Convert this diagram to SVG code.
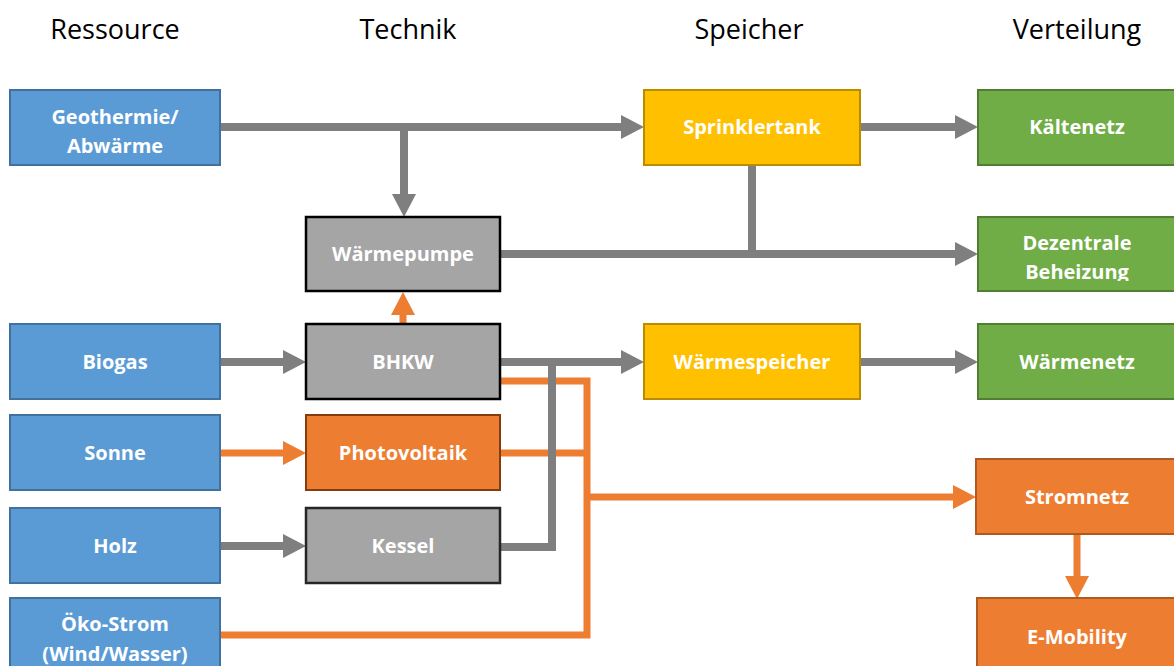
<svg xmlns="http://www.w3.org/2000/svg" width="1174" height="666" viewBox="0 0 1174 666">
<defs>
<style>
.hdr{font-family:"Open Sans","Liberation Sans",sans-serif;font-size:27px;fill:#000;text-anchor:middle}
.lbl{font-family:"Open Sans","Liberation Sans",sans-serif;font-size:20px;font-weight:700;fill:#fff;text-anchor:middle}
.blue{fill:#5B9BD5;stroke:#41719C;stroke-width:2}
.gray{fill:#A5A5A5;stroke:#000;stroke-width:2.5}
.orange{fill:#ED7D31;stroke:#AE5A21;stroke-width:2}
.yellow{fill:#FFC000;stroke:#BC8C00;stroke-width:2}
.green{fill:#70AD47;stroke:#507E32;stroke-width:2}
.cg{fill:none;stroke:#7F7F7F;stroke-width:8}
.co{fill:none;stroke:#ED7D31;stroke-width:7}
</style>
<marker id="ag" markerUnits="userSpaceOnUse" markerWidth="23" markerHeight="24" refX="0" refY="12" orient="auto"><path d="M0,0 L23,12 L0,24 z" fill="#7F7F7F"/></marker>
<marker id="ao" markerUnits="userSpaceOnUse" markerWidth="23" markerHeight="24" refX="0" refY="12" orient="auto"><path d="M0,0 L23,12 L0,24 z" fill="#ED7D31"/></marker>
<clipPath id="clipDez"><rect x="979" y="218" width="200" height="63"/></clipPath>
</defs>
<rect width="1174" height="666" fill="#fff"/>
<g id="headers">
<text class="hdr" x="115" y="39">Ressource</text>
<text class="hdr" x="408" y="39">Technik</text>
<text class="hdr" x="749" y="39">Speicher</text>
<text class="hdr" x="1077" y="39">Verteilung</text>
</g>
<g id="connectors">
<path class="co" d="M220,635 H587 V381 H500"/>
<path class="co" d="M500,453 H587"/>
<path class="co" d="M587,497 H953" marker-end="url(#ao)"/>
<path class="co" d="M220,453 H283" marker-end="url(#ao)"/>
<path class="co" d="M403,324 V315" marker-end="url(#ao)"/>
<path class="co" d="M1077,534 V576" marker-end="url(#ao)"/>
<path class="cg" d="M220,127 H621" marker-end="url(#ag)"/>
<path class="cg" d="M404,127 V194" marker-end="url(#ag)"/>
<path class="cg" d="M860,127 H955" marker-end="url(#ag)"/>
<path class="cg" d="M752,165 V254"/>
<path class="cg" d="M500,254 H955" marker-end="url(#ag)"/>
<path class="cg" d="M220,362 H283" marker-end="url(#ag)"/>
<path class="cg" d="M500,362 H621" marker-end="url(#ag)"/>
<path class="cg" d="M500,547 H552 V362"/>
<path class="cg" d="M860,362 H955" marker-end="url(#ag)"/>
<path class="cg" d="M220,546 H283" marker-end="url(#ag)"/>
</g>
<g id="geothermie"><rect class="blue" x="10" y="90" width="210" height="75"/><text class="lbl" x="115" y="124">Geothermie/</text><text class="lbl" x="115" y="153">Abwärme</text></g>
<g id="biogas"><rect class="blue" x="10" y="324" width="210" height="75"/><text class="lbl" x="115" y="369">Biogas</text></g>
<g id="sonne"><rect class="blue" x="10" y="415" width="210" height="75"/><text class="lbl" x="115" y="460">Sonne</text></g>
<g id="holz"><rect class="blue" x="10" y="508" width="210" height="75"/><text class="lbl" x="115" y="553">Holz</text></g>
<g id="oekostrom"><rect class="blue" x="10" y="598" width="210" height="80"/><text class="lbl" x="115" y="631">Öko-Strom</text><text class="lbl" x="115" y="661">(Wind/Wasser)</text></g>
<g id="waermepumpe"><rect class="gray" x="306" y="217" width="194" height="74"/><text class="lbl" x="403" y="261">Wärmepumpe</text></g>
<g id="bhkw"><rect class="gray" x="306" y="324" width="194" height="75"/><text class="lbl" x="403" y="369">BHKW</text></g>
<g id="photovoltaik"><rect class="orange" x="306" y="415" width="194" height="75" style="stroke:#843C0C"/><text class="lbl" x="403" y="460">Photovoltaik</text></g>
<g id="kessel"><rect class="gray" x="306" y="508" width="194" height="75" style="stroke:#262626"/><text class="lbl" x="403" y="553">Kessel</text></g>
<g id="sprinklertank"><rect class="yellow" x="644" y="90" width="216" height="75"/><text class="lbl" x="752" y="134">Sprinklertank</text></g>
<g id="waermespeicher"><rect class="yellow" x="644" y="324" width="216" height="75"/><text class="lbl" x="752" y="369">Wärmespeicher</text></g>
<g id="kaeltenetz"><rect class="green" x="978" y="90" width="200" height="75"/><text class="lbl" x="1077" y="134">Kältenetz</text></g>
<g id="dezentrale"><rect class="green" x="978" y="217" width="200" height="74"/><g clip-path="url(#clipDez)"><text class="lbl" x="1077" y="250">Dezentrale</text><text class="lbl" x="1077" y="279">Beheizung</text></g></g>
<g id="waermenetz"><rect class="green" x="978" y="324" width="200" height="75"/><text class="lbl" x="1077" y="369">Wärmenetz</text></g>
<g id="stromnetz"><rect class="orange" x="976" y="459" width="202" height="75"/><text class="lbl" x="1077" y="504">Stromnetz</text></g>
<g id="emobility"><rect class="orange" x="977" y="598" width="202" height="80"/><text class="lbl" x="1077" y="644">E-Mobility</text></g>
</svg>
